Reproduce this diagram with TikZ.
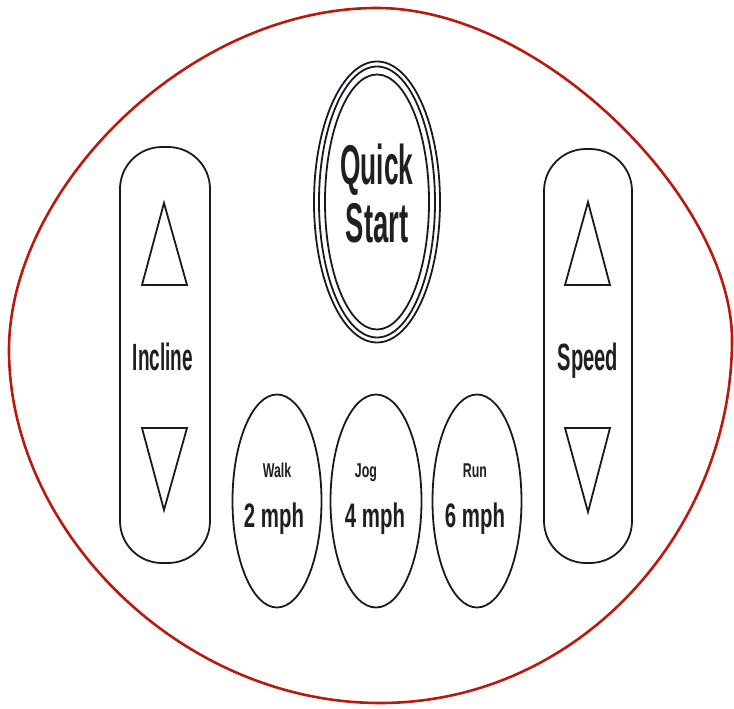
\documentclass[tikz,border=0pt]{standalone}
\usepackage{fontspec}
\usepackage{graphicx}
\setmainfont{Liberation Sans}
\usetikzlibrary{shapes.geometric}
\definecolor{rimc}{RGB}{185,25,15}
\definecolor{inkc}{RGB}{25,25,35}
\definecolor{txtc}{RGB}{30,30,35}
\begin{document}
\begin{tikzpicture}[x=1pt,y=-1pt,
  rim/.style={draw=rimc, line width=2.6pt},
  ink/.style={draw=inkc, line width=1.8pt},
  pill/.style={ink, rectangle, rounded corners=42pt, inner sep=0pt},
  oval/.style={ink, ellipse, inner sep=0pt},
  lbl/.style={text=txtc, inner sep=0pt, anchor=base},
]
\useasboundingbox (0,0) rectangle (734,709);
% outer red rim
\coordinate (rt) at (377,8);
\coordinate (rr) at (732,340);
\coordinate (rb) at (380,703);
\coordinate (rl) at (9,350);
\draw[rim] (rt) .. controls (542,8) and (732,200) .. (rr)
  .. controls (732,530) and (580,703) .. (rb)
  .. controls (180,703) and (9,530) .. (rl)
  .. controls (9,190) and (187,8) .. (rt) -- cycle;
% Quick Start button
\node[oval, minimum width=126pt, minimum height=281pt] (qs1) at (377,202) {};
\node[oval, minimum width=116pt, minimum height=271pt] (qs2) at (377,202) {};
\node[oval, minimum width=104pt, minimum height=255pt] (qs3) at (377,202) {};
\node[lbl, font=\bfseries\fontsize{56}{56}\selectfont] (quick) at (377,184) {\scalebox{0.47}[1]{Quick}};
\node[lbl, font=\bfseries\fontsize{56}{56}\selectfont] (start) at (377,242) {\scalebox{0.49}[1]{Start}};
% Incline
\node[pill, minimum width=90pt, minimum height=416pt] (incline) at (165,355) {};
\draw[ink, line join=miter] (164,203) -- (142,285) -- (187,285) -- cycle;
\draw[ink, line join=miter] (142,428) -- (187,428) -- (164,510) -- cycle;
\node[lbl, font=\bfseries\fontsize{38}{38}\selectfont] (incltxt) at (163,370) {\scalebox{0.5}[1]{Incline}};
% Speed
\node[pill, minimum width=88pt, minimum height=414pt] (speed) at (588,356) {};
\draw[ink, line join=miter] (588,202) -- (565,285) -- (610,285) -- cycle;
\draw[ink, line join=miter] (565,428) -- (610,428) -- (588,512) -- cycle;
\node[lbl, font=\bfseries\fontsize{38}{38}\selectfont] (spdtxt) at (588,370) {\scalebox{0.53}[1]{Speed}};
% preset buttons
\node[oval, minimum width=89pt, minimum height=213pt] (walk) at (277,501) {};
\node[oval, minimum width=91pt, minimum height=213pt] (jog) at (376,501) {};
\node[oval, minimum width=89pt, minimum height=213pt] (run) at (477,501) {};
\node[lbl, font=\bfseries\fontsize{20}{20}\selectfont] (walkt) at (277,477) {\scalebox{0.62}[1]{Walk}};
\node[lbl, font=\bfseries\fontsize{34}{34}\selectfont] (walks) at (274,527) {\scalebox{0.6}[1]{2 mph}};
\node[lbl, font=\bfseries\fontsize{20}{20}\selectfont] (jogt) at (366,477) {\scalebox{0.62}[1]{Jog}};
\node[lbl, font=\bfseries\fontsize{34}{34}\selectfont] (jogs) at (375,527) {\scalebox{0.6}[1]{4 mph}};
\node[lbl, font=\bfseries\fontsize{20}{20}\selectfont] (runt) at (475,477) {\scalebox{0.62}[1]{Run}};
\node[lbl, font=\bfseries\fontsize{34}{34}\selectfont] (runs) at (475,527) {\scalebox{0.6}[1]{6 mph}};
\end{tikzpicture}
\end{document}
